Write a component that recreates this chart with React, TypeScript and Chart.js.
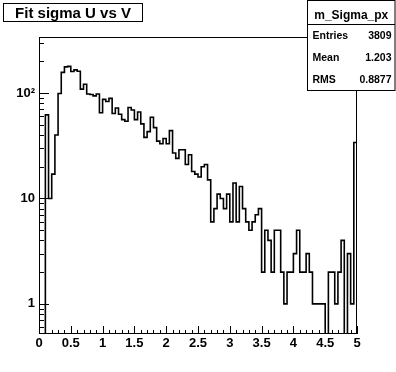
import { useEffect, useRef } from "react";
import { Chart, registerables } from "chart.js";

Chart.register(...registerables);

// ---------- data ----------
const titleText = "Fit sigma U vs V";
const histName = "m_Sigma_px";
const statsLabels = ["Entries", "Mean", "RMS"];
const statsValues = ["3809", "1.203", "0.8877"];

const xMin = 0;
const xMax = 5;
// bin contents (100 bins from 0 to 5)
const counts = [
  0, 0, 62, 10, 17, 40, 99, 157, 177, 179,
  160, 166, 161, 109, 121, 98, 97, 94, 98, 65,
  87, 83, 89, 64, 72, 63, 56, 54, 73, 69,
  56, 66, 51, 38, 43, 59, 47, 35, 33, 37,
  33, 44, 27, 24, 29, 29, 21, 26, 18, 17,
  16, 20, 21, 15, 6, 8, 11, 10, 8, 11,
  6, 14, 6, 13, 8, 6, 5, 6, 7, 8,
  2, 5, 4, 2, 5, 5, 2, 1, 2, 2,
  3, 5, 2, 2, 3, 2, 1, 1, 1, 1,
  0, 2, 2, 1, 2, 4, 0, 3, 1, 34,
];

const xTickValues = [0, 0.5, 1, 1.5, 2, 2.5, 3, 3.5, 4, 4.5, 5];
const xTickLabels = ["0", "0.5", "1", "1.5", "2", "2.5", "3", "3.5", "4", "4.5", "5"];
const yTickValues = [1, 10, 100];
const yTickLabels = ["1", "10", "10\u00B2"];
const yMin = 0.518;
const yMax = 340;

const FONT = "'Liberation Sans', Arial, Helvetica, sans-serif";

const decorPlugin = {
  id: "rootDecor",
  beforeDraw(chart: any) {
    const ctx = chart.ctx;
    ctx.save();
    ctx.fillStyle = "#fff";
    ctx.fillRect(0, 0, chart.width, chart.height);
    ctx.restore();
  },
  afterDraw(chart: any) {
    const { ctx, chartArea: a, scales } = chart;
    const xs = scales.x;
    const ys = scales.y;
    ctx.save();
    ctx.strokeStyle = "#000";
    ctx.lineWidth = 1;
    ctx.beginPath();
    // x axis ticks (major every 0.5, minor every 0.1)
    for (let k = 0; k <= 50; k++) {
      const v = xMin + k * 0.1;
      const px = Math.round(xs.getPixelForValue(v)) + 0.5;
      const len = k % 5 === 0 ? 8 : 4;
      ctx.moveTo(px, a.bottom);
      ctx.lineTo(px, a.bottom - len);
    }
    // y axis ticks (log)
    for (let e = -1; e <= 2; e++) {
      for (let m = 1; m <= 9; m++) {
        const v = m * Math.pow(10, e);
        if (v < ys.min || v > ys.max) continue;
        const py = Math.round(ys.getPixelForValue(v)) + 0.5;
        const len = m === 1 ? 10 : 5;
        ctx.moveTo(a.left, py);
        ctx.lineTo(a.left + len, py);
      }
    }
    ctx.stroke();
    // frame
    ctx.strokeRect(a.left + 0.5, a.top + 0.5, a.right - a.left - 1, a.bottom - a.top - 1);

    // title box
    ctx.fillStyle = "#fff";
    ctx.fillRect(3.5, 3.5, 139, 18);
    ctx.strokeRect(3.5, 3.5, 139, 18);
    ctx.fillStyle = "#000";
    ctx.font = `bold 15px ${FONT}`;
    ctx.textAlign = "center";
    ctx.textBaseline = "alphabetic";
    ctx.fillText(titleText, 73, 17.5);

    // stats box
    const bx = 307.5, by = 0.5, bw = 87.5, bh = 90;
    ctx.fillStyle = "#fff";
    ctx.fillRect(bx, by, bw, bh);
    ctx.strokeRect(bx, by, bw, bh);
    ctx.beginPath();
    ctx.moveTo(bx, 24.5);
    ctx.lineTo(bx + bw, 24.5);
    ctx.stroke();
    ctx.fillStyle = "#000";
    ctx.font = `bold 12px ${FONT}`;
    ctx.textAlign = "center";
    ctx.fillText(histName, bx + bw / 2, 19);
    ctx.font = `bold 10.5px ${FONT}`;
    const rowH = (bh - 24) / statsLabels.length;
    statsLabels.forEach((lab, i) => {
      const yy = 24.5 + rowH * (i + 0.5) + 3.5;
      ctx.textAlign = "left";
      ctx.fillText(lab, 312.5, yy);
      ctx.textAlign = "right";
      ctx.fillText(statsValues[i], 391.5, yy);
    });
    ctx.restore();
  },
};

export default function App() {
  const ref = useRef<HTMLCanvasElement | null>(null);

  useEffect(() => {
    if (!ref.current) return;
    const binW = (xMax - xMin) / counts.length;
    const pts: { x: number; y: number }[] = [{ x: xMin, y: yMin }];
    counts.forEach((c, i) => {
      pts.push({ x: xMin + i * binW, y: c > 0 ? c : yMin });
    });
    pts.push({ x: xMax, y: yMin });

    const chart = new Chart(ref.current, {
      type: "line",
      data: {
        datasets: [
          {
            data: pts,
            stepped: "before",
            borderColor: "#000",
            borderWidth: 1.6,
            pointRadius: 0,
            fill: false,
            tension: 0,
          },
        ],
      },
      options: {
        responsive: false,
        animation: false,
        events: [],
        layout: { padding: { top: 37, right: 39, bottom: 0, left: 0 } },
        plugins: {
          legend: { display: false },
          tooltip: { enabled: false },
          title: { display: false },
        },
        scales: {
          x: {
            type: "linear",
            min: xMin,
            max: xMax,
            grid: { display: false, drawTicks: false },
            border: { display: false },
            afterFit: (s: any) => {
              s.height = 38;
            },
            afterBuildTicks: (s: any) => {
              s.ticks = xTickValues.map((v) => ({ value: v }));
            },
            ticks: {
              autoSkip: false,
              maxRotation: 0,
              padding: 2,
              color: "#000",
              font: { family: FONT, weight: "bold", size: 13 },
              callback: (v: any) => {
                const i = xTickValues.findIndex((t) => Math.abs(t - Number(v)) < 1e-9);
                return i >= 0 ? xTickLabels[i] : "";
              },
            },
          },
          y: {
            type: "logarithmic",
            min: yMin,
            max: yMax,
            grid: { display: false, drawTicks: false },
            border: { display: false },
            afterFit: (s: any) => {
              s.width = 39;
            },
            afterBuildTicks: (s: any) => {
              s.ticks = yTickValues.map((v) => ({ value: v }));
            },
            ticks: {
              autoSkip: false,
              padding: 4,
              color: "#000",
              font: { family: FONT, weight: "bold", size: 13 },
              callback: (v: any) => {
                const i = yTickValues.findIndex((t) => Math.abs(t - Number(v)) / t < 1e-6);
                return i >= 0 ? yTickLabels[i] : "";
              },
            },
          },
        },
      },
      plugins: [decorPlugin],
    });
    return () => chart.destroy();
  }, []);

  return (
    <div style={{ position: "absolute", left: 0, top: 0, width: 396, height: 372, background: "#fff" }}>
      <canvas ref={ref} width={396} height={372} style={{ display: "block", width: 396, height: 372 }} />
    </div>
  );
}
